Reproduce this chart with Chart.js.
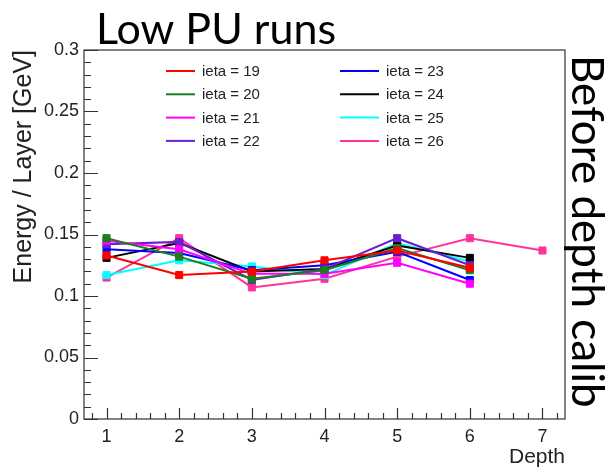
<!DOCTYPE html>
<html>
<head>
<meta charset="utf-8">
<script src="https://cdn.jsdelivr.net/npm/chart.js@4/dist/chart.umd.min.js"></script>
<style>
  html, body { margin: 0; padding: 0; background: #fff; }
  #wrap { position: relative; width: 607px; height: 470px; }
</style>
</head>
<body>
<div id="wrap"><canvas id="depthChart"></canvas></div>
<script>
// Energy per layer vs depth, one line per ieta ring
const depths = [1, 2, 3, 4, 5, 6];
const depthsLong = [1, 2, 3, 4, 5, 6, 7];

const ieta19 = [0.133, 0.117, 0.120, 0.129, 0.137, 0.123];
const ieta20 = [0.147, 0.132, 0.114, 0.121, 0.139, 0.121];
const ieta21 = [0.145, 0.138, 0.118, 0.118, 0.127, 0.110];
const ieta22 = [0.142, 0.144, 0.113, 0.122, 0.147, 0.125];
const ieta23 = [0.138, 0.135, 0.121, 0.125, 0.136, 0.113];
const ieta24 = [0.131, 0.143, 0.120, 0.122, 0.141, 0.131];
const ieta25 = [0.117, 0.129, 0.124, 0.117, 0.143, 0.128];
const ieta26 = [0.115, 0.147, 0.107, 0.114, 0.132, 0.147, 0.137];

const seriesLabels = ['ieta = 19', 'ieta = 20', 'ieta = 21', 'ieta = 22',
                      'ieta = 23', 'ieta = 24', 'ieta = 25', 'ieta = 26'];
const seriesColors = ['#ff0000', '#1e7d1e', '#ff00ff', '#6a1fd0',
                      '#0000ff', '#000000', '#00ffff', '#ff3399'];

const xTicks = [1, 2, 3, 4, 5, 6, 7];
const yTicks = [0, 0.05, 0.1, 0.15, 0.2, 0.25, 0.3];

function makeSeries(xs, ys, i) {
    return {
        label: seriesLabels[i],
        data: ys.map((v, k) => ({ x: xs[k], y: v })),
        borderColor: seriesColors[i],
        backgroundColor: seriesColors[i],
        pointBackgroundColor: seriesColors[i],
        pointBorderColor: seriesColors[i],
        pointStyle: 'rect',
        pointRadius: 5,
        pointBorderWidth: 1,
        borderWidth: 2,
        tension: 0,
        fill: false
    };
}

const datasets = [
    makeSeries(depths, ieta19, 0),
    makeSeries(depths, ieta20, 1),
    makeSeries(depths, ieta21, 2),
    makeSeries(depths, ieta22, 3),
    makeSeries(depths, ieta23, 4),
    makeSeries(depths, ieta24, 5),
    makeSeries(depths, ieta25, 6),
    makeSeries(depthsLong, ieta26, 7)
];

// Frame + inward ticks (major and minor), drawn on top of the chart area
const frameTicks = {
    id: 'frameTicks',
    afterDatasetsDraw(chart) {
        const { ctx, chartArea: a, scales } = chart;
        const xs = scales.x, ys = scales.y;
        ctx.save();
        ctx.strokeStyle = '#333';
        ctx.lineWidth = 1.2;
        ctx.strokeRect(a.left, a.top, a.right - a.left, a.bottom - a.top);

        ctx.beginPath();
        // y axis: major every 0.05, minor every 0.01
        for (let k = 0; k <= 30; k++) {
            const v = k / 100;
            const py = Math.round(ys.getPixelForValue(v)) + 0.5;
            const len = (k % 5 === 0) ? 14 : 7;
            ctx.moveTo(a.left, py);
            ctx.lineTo(a.left + len, py);
        }
        // x axis: major every 1, minor every 0.2
        for (let k = 4; k <= 36; k++) {
            const v = k / 5;
            const px = xs.getPixelForValue(v);
            if (px < a.left || px > a.right) continue;
            const len = (k % 5 === 0) ? 11 : 6;
            ctx.moveTo(Math.round(px) + 0.5, a.bottom);
            ctx.lineTo(Math.round(px) + 0.5, a.bottom - len);
        }
        ctx.stroke();
        ctx.restore();
    }
};

// Two-column legend inside the frame, plus the slide captions
const extras = {
    id: 'extras',
    afterDraw(chart) {
        const { ctx, chartArea: a } = chart;
        ctx.save();

        ctx.font = '15px "Liberation Sans", Arial, sans-serif';
        ctx.textBaseline = 'middle';
        ctx.textAlign = 'left';
        chart.data.datasets.forEach((ds, i) => {
            const col = Math.floor(i / 4);
            const row = i % 4;
            const y = a.top + 21 + row * 23.3;
            const x0 = col === 0 ? 166 : 340;
            const x1 = col === 0 ? 195 : 379;
            ctx.strokeStyle = ds.borderColor;
            ctx.lineWidth = 2;
            ctx.beginPath();
            ctx.moveTo(x0, y);
            ctx.lineTo(x1, y);
            ctx.stroke();
            ctx.fillStyle = '#222';
            ctx.fillText(ds.label, x1 + 7, y + 1);
        });

        ctx.fillStyle = '#000';
        ctx.font = '43px Lato, "Open Sans", sans-serif';
        ctx.textBaseline = 'alphabetic';
        ctx.fillText('Low PU runs', 96, 44);

        ctx.translate(572, 55);
        ctx.rotate(Math.PI / 2);
        ctx.font = '44px Lato, "Open Sans", sans-serif';
        ctx.fillText('Before depth calib', 0, 0);
        ctx.restore();
    }
};

const tickFont = { family: '"Liberation Sans", Arial, sans-serif', size: 18 };

new Chart(document.getElementById('depthChart'), {
    type: 'line',
    data: { datasets: datasets },
    options: {
        responsive: true,
        maintainAspectRatio: false,
        animation: false,
        layout: { padding: { left: 0, top: 50, right: 42, bottom: 0 } },
        plugins: {
            legend: { display: false },
            tooltip: { enabled: false }
        },
        scales: {
            x: {
                type: 'linear',
                min: 0.69,
                max: 7.31,
                grid: { display: false, drawTicks: false },
                border: { display: false },
                afterBuildTicks(scale) { scale.ticks = xTicks.map(v => ({ value: v })); },
                afterFit(scale) { scale.height = 51; },
                ticks: { color: '#222', font: tickFont, padding: 7, maxRotation: 0 },
                title: {
                    display: true, text: 'Depth', align: 'end', color: '#222',
                    font: { family: '"Liberation Sans", Arial, sans-serif', size: 21 },
                    padding: { top: 0, bottom: 0 }
                }
            },
            y: {
                min: 0,
                max: 0.3,
                grid: { display: false, drawTicks: false },
                border: { display: false },
                afterBuildTicks(scale) { scale.ticks = yTicks.map(v => ({ value: v })); },
                afterFit(scale) { scale.width = 84; },
                ticks: {
                    color: '#222', font: tickFont, padding: 5,
                    callback: v => String(+v.toFixed(2))
                },
                title: {
                    display: true, text: 'Energy / Layer [GeV]', align: 'end', color: '#222',
                    font: { family: '"Liberation Sans", Arial, sans-serif', size: 25 },
                    padding: { top: 9, bottom: 0 }
                }
            }
        }
    },
    plugins: [frameTicks, extras]
});
</script>
</body>
</html>
